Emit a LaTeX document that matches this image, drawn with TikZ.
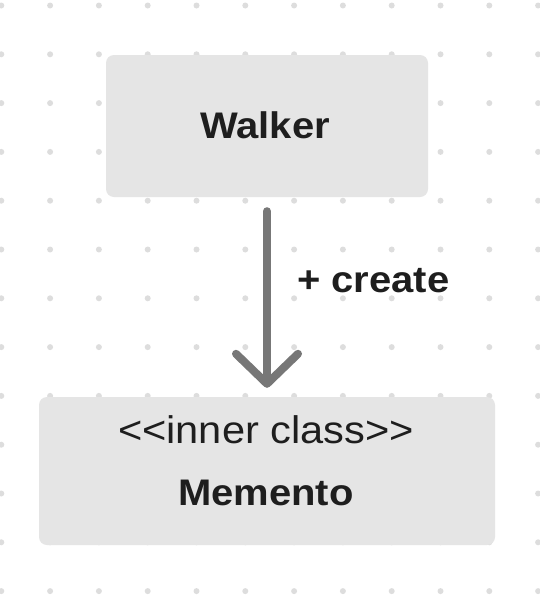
\documentclass[tikz,border=0pt]{standalone}
\usepackage{fontspec}
\setmainfont{Liberation Sans}[FakeStretch=1.08]
\usetikzlibrary{arrows.meta}
\definecolor{boxfill}{HTML}{E5E5E5}
\definecolor{dotc}{HTML}{DDDDDD}
\definecolor{inkc}{HTML}{1E1E1E}
\definecolor{arrowc}{HTML}{777777}
\tikzset{
  classbox/.style={rectangle, rounded corners=8pt, fill=boxfill, draw=none, inner sep=0pt},
  txt/.style={text=inkc, inner sep=0pt, font=\fontsize{37}{40}\selectfont},
  btxt/.style={txt, font=\fontsize{37}{40}\selectfont\bfseries},
  conn/.style={draw=arrowc, line width=8pt, line cap=round,
    -{Straight Barb[length=30pt, width=62pt, round]}},
}
\begin{document}
\begin{tikzpicture}[x=1pt, y=-1pt]
\useasboundingbox (0,0) rectangle (540,600);
\fill[white] (0,0) rectangle (540,600);
% dot grid
\foreach \i in {0,...,11} {
  \foreach \j in {0,...,12} {
    \fill[dotc] ({1.3+48.8*\i},{5.5+48.8*\j}) circle (3pt);
  }
}
\node[classbox, minimum width=322pt, minimum height=142pt] (walker) at (267,126) {};
\node[btxt, anchor=base] (walkername) at (265,138.5) {Walker};
\node[classbox, minimum width=456pt, minimum height=148pt] (memento) at (267,471) {};
\node[txt, anchor=base, font=\fontsize{38.5}{42}\selectfont] (stereo) at (266,443) {<{}<inner class>{}>};
\node[btxt, anchor=base] (mementoname) at (266,505) {Memento};
\draw[conn, shorten <=14pt, shorten >=9pt] (walker.south) -- (memento.north);
\node[btxt, anchor=base west] (create) at (297,292) {+ create};
\end{tikzpicture}
\end{document}
